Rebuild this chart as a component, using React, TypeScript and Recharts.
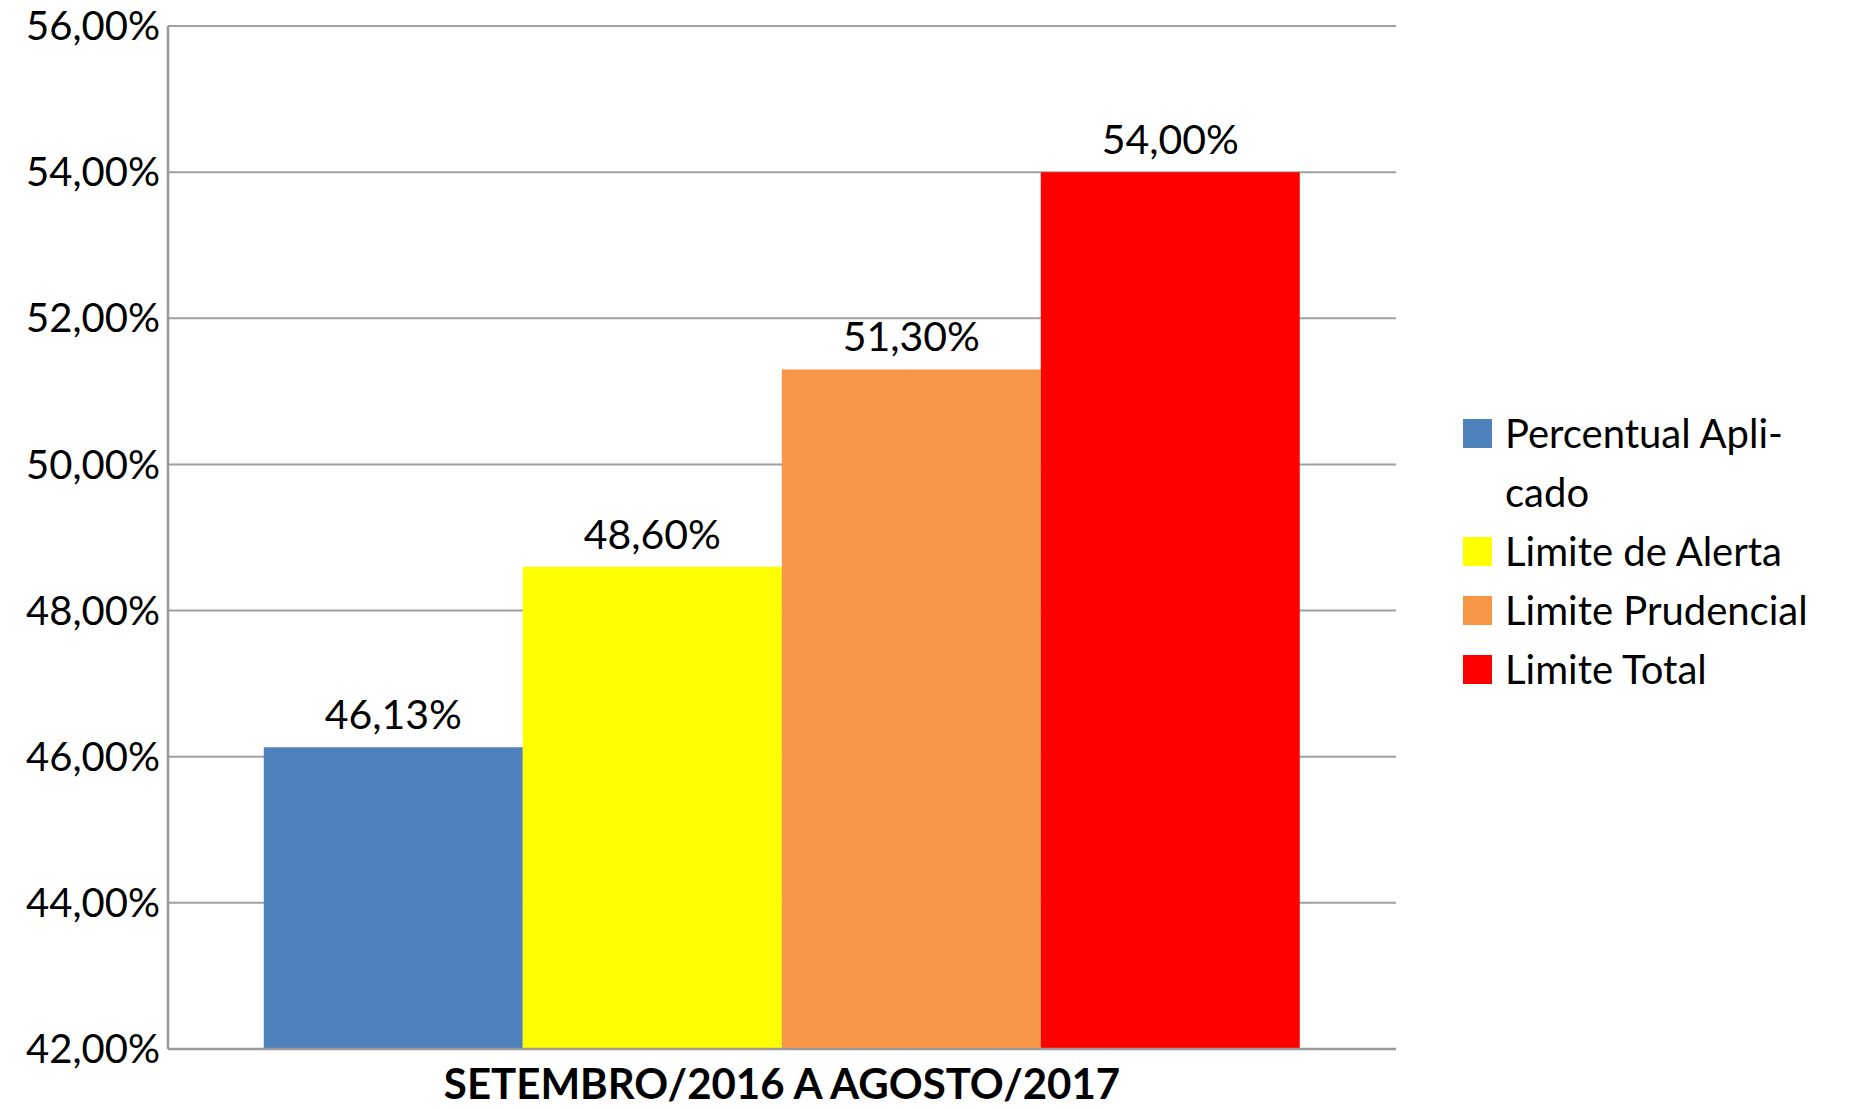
import React from 'react';
import { BarChart, Bar, XAxis, YAxis, CartesianGrid, LabelList } from 'recharts';

const categories = ['SETEMBRO/2016 A AGOSTO/2017'];
const seriesNames = ['Percentual Aplicado', 'Limite de Alerta', 'Limite Prudencial', 'Limite Total'];
const seriesKeys = ['aplicado', 'alerta', 'prudencial', 'total'];
const seriesValues = [46.13, 48.6, 51.3, 54.0];
const seriesColors = ['#4F81BD', '#FFFF00', '#F79646', '#FF0000'];
const yTicks = [42, 44, 46, 48, 50, 52, 54, 56];

const data = categories.map((name) => {
  const row: Record<string, string | number> = { name };
  seriesKeys.forEach((k, i) => {
    row[k] = seriesValues[i];
  });
  return row;
});

const pct = (v: number) => v.toFixed(2).replace('.', ',') + '%';

const FONT = 'Lato, "Open Sans", sans-serif';

function LegendBox() {
  return (
    <div
      style={{
        position: 'absolute',
        left: 1455,
        top: 396,
        width: 400,
        fontFamily: FONT,
        fontSize: 40,
        color: '#000',
      }}
    >
      {seriesNames.map((n, i) => (
        <div key={n} style={{ display: 'flex', alignItems: 'flex-start', lineHeight: '59px' }}>
          <div
            style={{
              width: 29,
              height: 29,
              background: seriesColors[i],
              marginTop: 15,
              marginRight: 13,
              flexShrink: 0,
            }}
          />
          <div style={{ width: 320, whiteSpace: i === 0 ? 'normal' : 'nowrap' }}>
            {i === 0 ? 'Percentual Apli\u00ADcado' : n}
          </div>
        </div>
      ))}
    </div>
  );
}

export default function App() {
  return (
    <div style={{ position: 'relative', width: 1860, height: 1101 }}>
      <BarChart
        width={1860}
        height={1101}
        data={data}
        margin={{ top: 18, right: 472, bottom: 0, left: 0 }}
        barCategoryGap="7.8%"
        barGap={0}
        style={{ overflow: 'visible' }}
      >
        <CartesianGrid vertical={false} stroke="#a0a0a0" strokeWidth={2} />
        <XAxis
          dataKey="name"
          height={60}
          tickLine={false}
          tickSize={0}
          tickMargin={20}
          axisLine={{ stroke: '#999', strokeWidth: 2.5 }}
          tick={{ fill: '#000', fontSize: 42, fontWeight: 700, fontFamily: FONT }}
        />
        <YAxis
          width={160}
          domain={[42, 56]}
          ticks={yTicks}
          interval={0}
          allowDataOverflow
          tickLine={false}
          axisLine={{ stroke: '#999', strokeWidth: 2.5 }}
          tickFormatter={pct}
          tick={{ fill: '#000', fontSize: 40, fontFamily: FONT }}
        />
        {seriesKeys.map((k, i) => (
          <Bar key={k} dataKey={k} name={seriesNames[i]} fill={seriesColors[i]} isAnimationActive={false}>
            <LabelList
              dataKey={k}
              position="top"
              offset={18}
              formatter={(v: number) => pct(v)}
              style={{ fill: '#000', fontSize: 41, fontFamily: FONT }}
            />
          </Bar>
        ))}
      </BarChart>
      <LegendBox />
    </div>
  );
}
